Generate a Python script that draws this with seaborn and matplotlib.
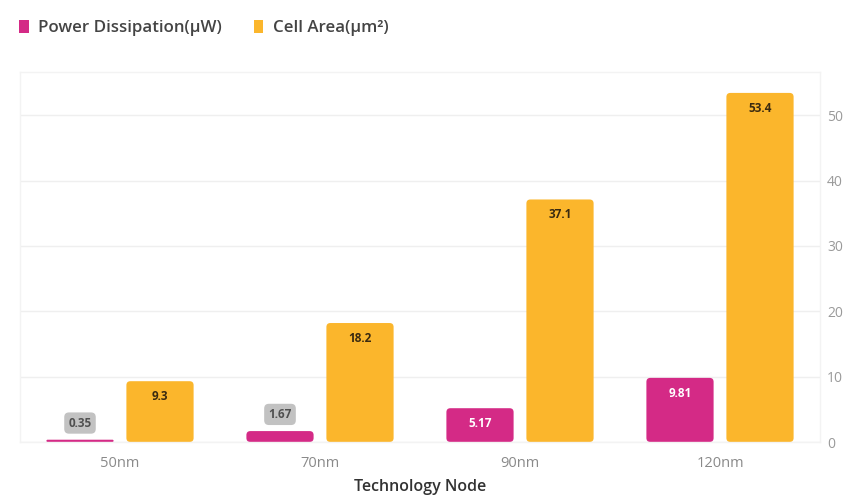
import matplotlib
matplotlib.use("Agg")
import matplotlib.pyplot as plt
from matplotlib.patches import FancyBboxPatch, Patch
import seaborn as sns
import pandas as pd

nodes = ["50nm", "70nm", "90nm", "120nm"]
power_uw = [0.35, 1.67, 5.17, 9.81]
cell_area_um2 = [9.3, 18.2, 37.1, 53.4]
series_names = ["Power Dissipation(μW)", "Cell Area(μm²)"]
y_ticks = [0, 10, 20, 30, 40, 50]

MAGENTA = "#D42A86"
AMBER = "#FBB62C"

df = pd.DataFrame({
    "node": nodes * 2,
    "value": power_uw + cell_area_um2,
    "series": [series_names[0]] * len(nodes) + [series_names[1]] * len(nodes),
})

sns.set_theme(style="white")
plt.rcParams["font.family"] = ["Open Sans", "DejaVu Sans"]

fig = plt.figure(figsize=(8.45, 5.04), dpi=100)
ax = fig.add_axes([20 / 845, 62 / 504, 800 / 845, (442 - 72) / 504])

sns.barplot(data=df, x="node", y="value", hue="series", order=nodes,
            hue_order=series_names, palette=[MAGENTA, AMBER],
            width=0.8, gap=0.16, saturation=1, legend=False, ax=ax)

ax.set_ylim(0, 56.6)
ax.set_xlim(-0.5, len(nodes) - 0.5)
ax.set_yticks(y_ticks)
ax.yaxis.tick_right()
ax.tick_params(axis="y", length=0, pad=5, labelsize=10, labelcolor="#9a9a9a")
ax.tick_params(axis="x", length=0, pad=10, labelsize=10.5, labelcolor="#8a8a8a")
ax.grid(axis="y", color="#efefef", linewidth=1)
ax.set_axisbelow(True)
for s in ax.spines.values():
    s.set_color("#f3f3f3")
    s.set_linewidth(1)
ax.set_ylabel("")
ax.set_xlabel("Technology Node", fontsize=11.5, fontweight="semibold",
              color="#333333", labelpad=6)

fig.canvas.draw()
# pixel scale of one data unit in x and y
p0 = ax.transData.transform((0, 0))
p1 = ax.transData.transform((1, 1))
px_x = p1[0] - p0[0]
px_y = p1[1] - p0[1]

# swap rectangular bars for rounded ones
bars = [p for p in ax.patches]
for p in bars:
    x, y = p.get_x(), p.get_y()
    w, h = p.get_width(), p.get_height()
    if h <= 0:
        continue
    fc = p.get_facecolor()
    p.remove()
    r_px = min(4.0, h * px_y / 2)
    r = r_px / px_x
    aspect = px_x / px_y
    rb = FancyBboxPatch((x, y), w, h,
                        boxstyle=f"round,pad=0,rounding_size={r}",
                        mutation_aspect=aspect, fc=fc, ec="none", zorder=2)
    ax.add_patch(rb)

# value labels
off = [-0.2, 0.2]
for si, vals in enumerate([power_uw, cell_area_um2]):
    for i, v in enumerate(vals):
        xc = i + off[si]
        bar_px = v * px_y
        if bar_px < 25:
            ax.annotate(f"{v:g}", (xc, v), xytext=(0, 12), textcoords="offset points",
                        ha="center", va="center", fontsize=8.5, fontweight="bold",
                        color="#505050", zorder=4,
                        bbox=dict(boxstyle="round,pad=0.35,rounding_size=0.4",
                                  fc="#c2c2c2", ec="none"))
        else:
            col = "#ffffff" if si == 0 else "#3a2a10"
            ax.annotate(f"{v:g}", (xc, v), xytext=(0, -11), textcoords="offset points",
                        ha="center", va="center", fontsize=8.5, fontweight="bold",
                        color=col, zorder=4)

handles = [Patch(facecolor=MAGENTA, edgecolor="none"),
           Patch(facecolor=AMBER, edgecolor="none")]
fig.legend(handles, series_names, loc="upper left", bbox_to_anchor=(0.005, 0.99),
           ncol=2, frameon=False, handlelength=0.55, handleheight=0.75,
           handletextpad=0.55, columnspacing=1.9, labelcolor="#444444",
           prop={"weight": "semibold", "size": 12.2})

fig.savefig("out.png", dpi=100)
